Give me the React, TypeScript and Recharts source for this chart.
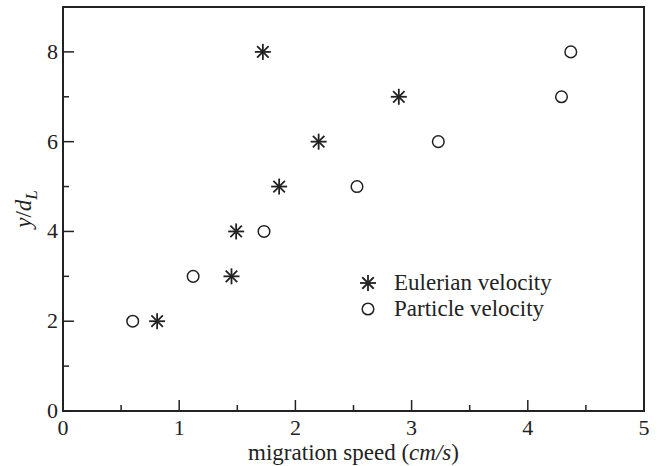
import React from "react";
import { ScatterChart, Scatter, XAxis, YAxis, ReferenceArea, Legend } from "recharts";

const eulerianSpeed = [0.81, 1.45, 1.49, 1.86, 2.2, 2.89, 1.72];
const eulerianY = [2, 3, 4, 5, 6, 7, 8];
const particleSpeed = [0.6, 1.12, 1.73, 2.53, 3.23, 4.29, 4.37];
const particleY = [2, 3, 4, 5, 6, 7, 8];
const xTicks = [0, 0.5, 1, 1.5, 2, 2.5, 3, 3.5, 4, 4.5, 5];
const yTicks = [0, 1, 2, 3, 4, 5, 6, 7, 8];

const eulerian = eulerianSpeed.map((x, i) => ({ x, y: eulerianY[i] }));
const particle = particleSpeed.map((x, i) => ({ x, y: particleY[i] }));

const INK = "#222";
const FONT = "'Liberation Serif', 'Noto Serif', 'Nimbus Roman', 'FreeSerif', Georgia, 'DejaVu Serif', serif";

const Star = ({ cx, cy, r = 8 }: any) => {
  const d = r * 0.72;
  return (
    <g stroke={INK} strokeWidth={1.8}>
      <line x1={cx - r} y1={cy} x2={cx + r} y2={cy} />
      <line x1={cx} y1={cy - r} x2={cx} y2={cy + r} />
      <line x1={cx - d} y1={cy - d} x2={cx + d} y2={cy + d} />
      <line x1={cx - d} y1={cy + d} x2={cx + d} y2={cy - d} />
    </g>
  );
};

const Ring = ({ cx, cy }: any) => (
  <circle cx={cx} cy={cy} r={5.8} fill="none" stroke={INK} strokeWidth={1.5} />
);

const XTick = ({ x, y, payload }: any) => {
  const major = Number.isInteger(payload.value);
  return (
    <g>
      <line x1={x} y1={y} x2={x} y2={y - (major ? 11 : 6)} stroke={INK} strokeWidth={1.5} />
      {major && (
        <text x={x} y={y + 24} textAnchor="middle" fontFamily={FONT} fontSize={22} fill={INK}>
          {payload.value}
        </text>
      )}
    </g>
  );
};

const YTick = ({ x, y, payload }: any) => {
  const major = payload.value % 2 === 0;
  return (
    <g>
      <line x1={x} y1={y} x2={x + (major ? 11 : 6)} y2={y} stroke={INK} strokeWidth={1.5} />
      {major && (
        <text x={x - 5} y={y + 7} textAnchor="end" fontFamily={FONT} fontSize={22} fill={INK}>
          {payload.value}
        </text>
      )}
    </g>
  );
};

const renderLegend = () => (
  <div style={{ fontFamily: FONT, fontSize: 23, color: INK, lineHeight: "26px" }}>
    <div style={{ display: "flex", alignItems: "center" }}>
      <svg width={24} height={20}><Star cx={12} cy={10} /></svg>
      <span style={{ marginLeft: 14 }}>Eulerian velocity</span>
    </div>
    <div style={{ display: "flex", alignItems: "center" }}>
      <svg width={24} height={20}><Ring cx={12} cy={10} /></svg>
      <span style={{ marginLeft: 14 }}>Particle velocity</span>
    </div>
  </div>
);

export default function App() {
  return (
    <div style={{ position: "absolute", left: 0, top: 0, fontFamily: FONT }}>
      <ScatterChart width={657} height={466} margin={{ top: 7, right: 13, bottom: 0, left: 0 }}>
        <XAxis
          type="number"
          dataKey="x"
          domain={[0, 5]}
          ticks={xTicks}
          interval={0}
          height={55}
          tickSize={0}
          tickMargin={0}
          tickLine={false}
          tick={<XTick />}
          axisLine={{ stroke: INK, strokeWidth: 2 }}
          label={({ viewBox }: any) => (
            <text x={viewBox.x + viewBox.width / 2} y={viewBox.y + 49} textAnchor="middle" fontFamily={FONT} fontSize={23} fill={INK}>
              migration speed (<tspan fontStyle="italic">cm/s</tspan>)
            </text>
          )}
        />
        <YAxis
          type="number"
          dataKey="y"
          domain={[0, 9]}
          ticks={yTicks}
          interval={0}
          width={63}
          tickSize={0}
          tickMargin={0}
          tickLine={false}
          tick={<YTick />}
          axisLine={{ stroke: INK, strokeWidth: 2 }}
          label={({ viewBox }: any) => {
            const cx = 31;
            const cy = viewBox.y + viewBox.height / 2;
            return (
              <text transform={`translate(${cx},${cy}) rotate(-90)`} textAnchor="middle" fontFamily={FONT} fontSize={23} fill={INK}>
                <tspan fontStyle="italic">y</tspan>/<tspan fontStyle="italic">d</tspan>
                <tspan fontStyle="italic" fontSize={17} dy={6}>L</tspan>
              </text>
            );
          }}
        />
        <ReferenceArea x1={0} x2={5} y1={0} y2={9} fill="none" stroke={INK} strokeWidth={2} />
        <Legend
          layout="vertical"
          align="center"
          verticalAlign="middle"
          content={renderLegend}
          wrapperStyle={{ left: 356, top: 270, width: 270 }}
        />
        <Scatter name="Eulerian velocity" data={eulerian} shape={<Star />} isAnimationActive={false} />
        <Scatter name="Particle velocity" data={particle} shape={<Ring />} isAnimationActive={false} />
      </ScatterChart>
    </div>
  );
}
